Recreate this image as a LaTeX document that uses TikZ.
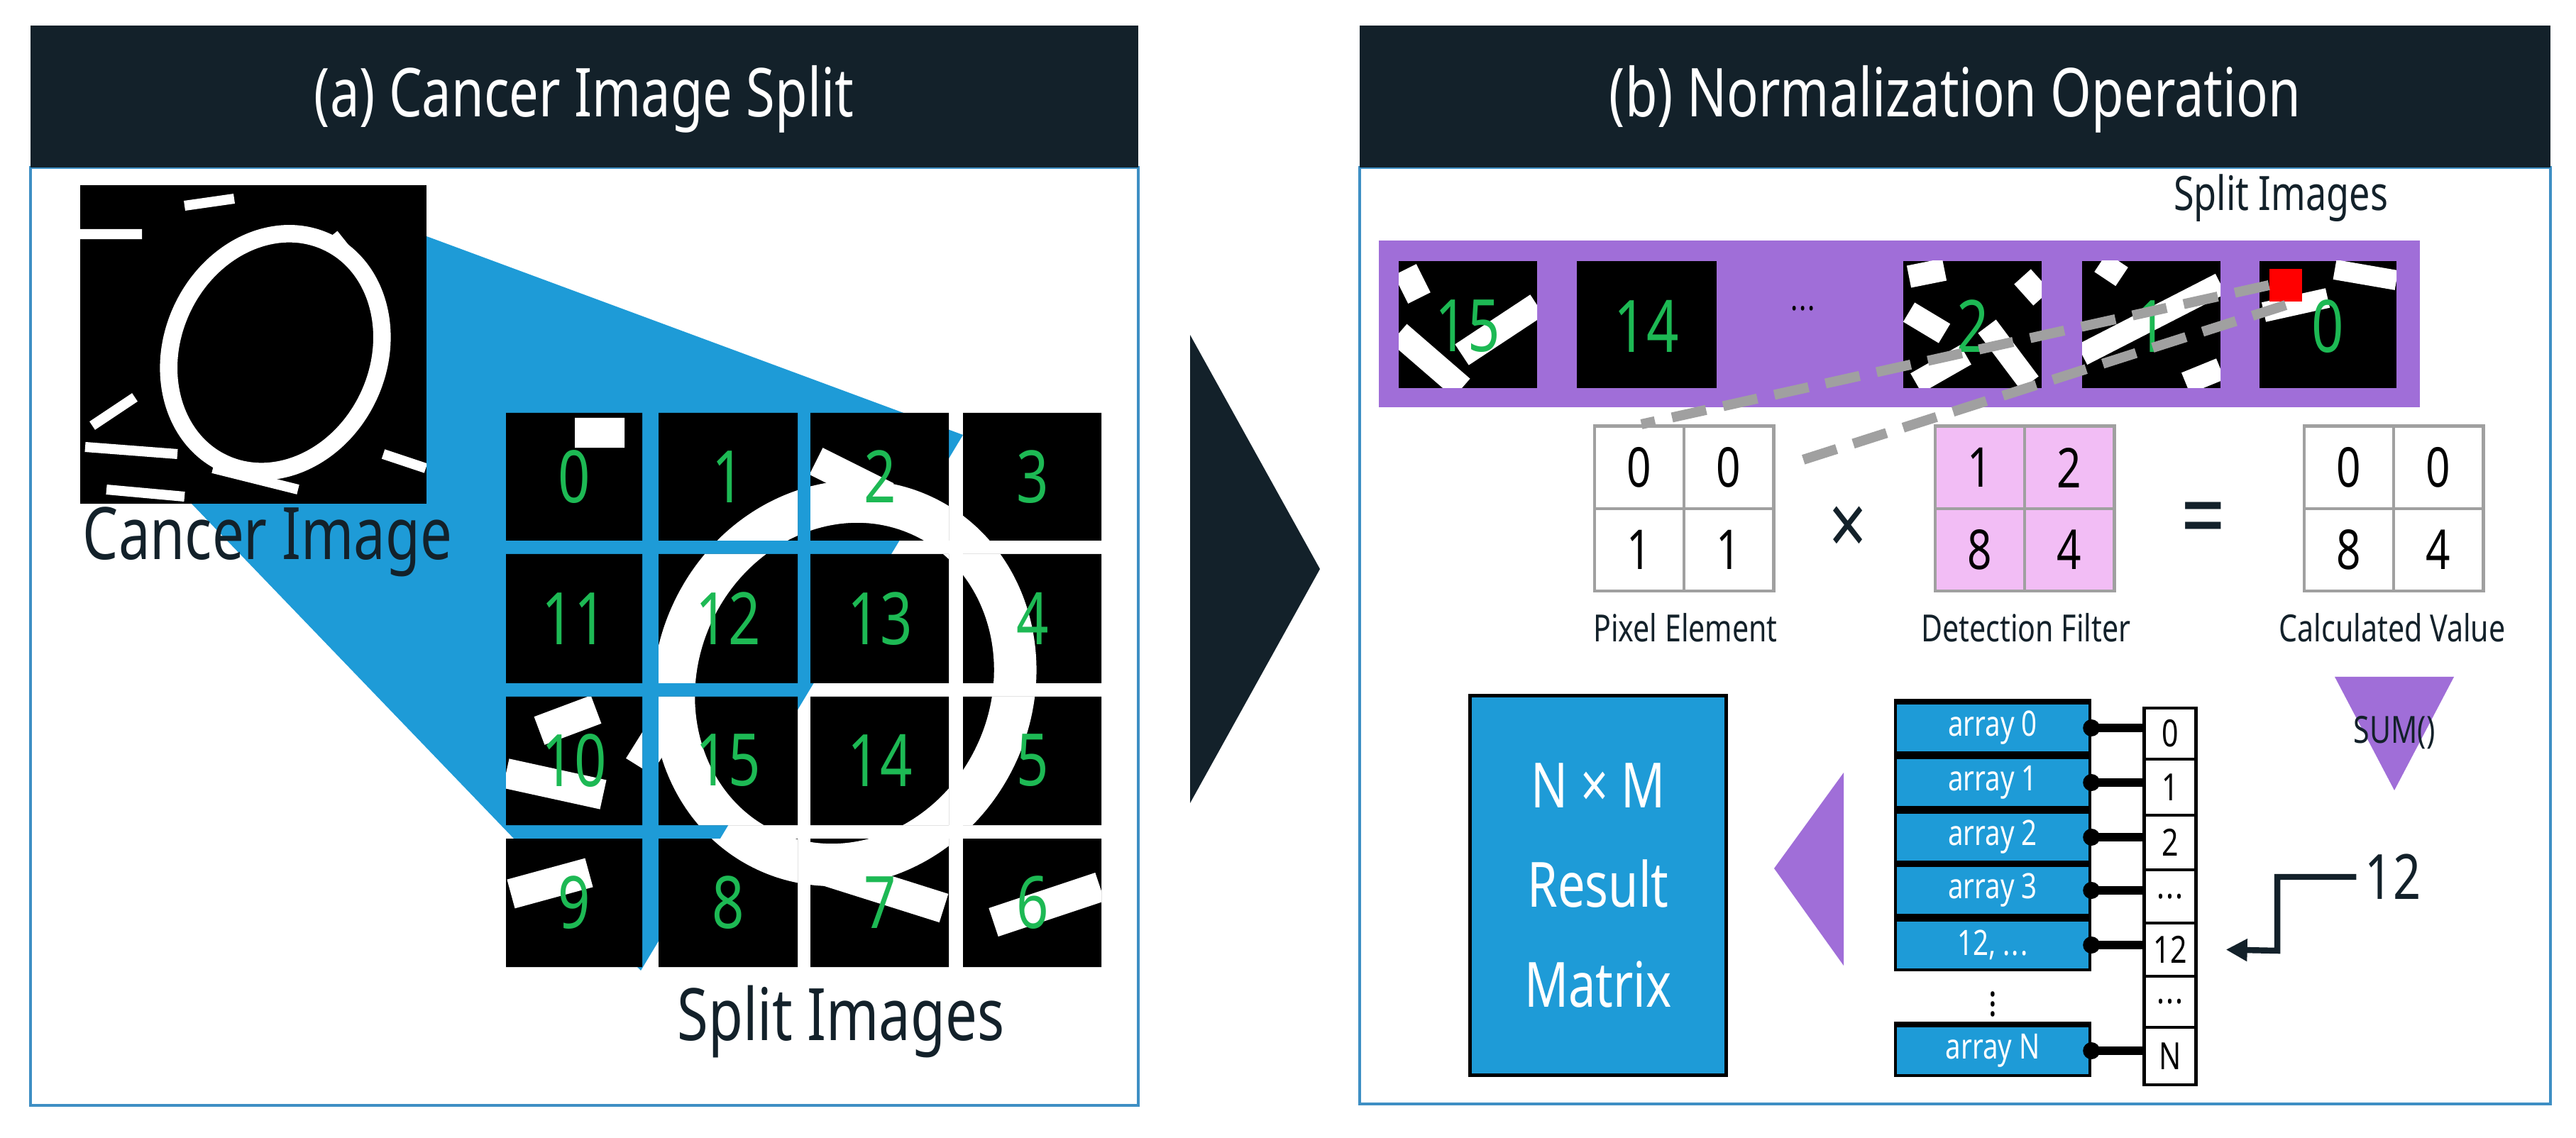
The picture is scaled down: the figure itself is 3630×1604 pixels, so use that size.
\documentclass[tikz,border=0pt]{standalone}
\usepackage{fontspec}
\setmainfont{Noto Sans}[FakeStretch=0.78]
\usetikzlibrary{arrows.meta}
\definecolor{hdr}{HTML}{13212A}
\definecolor{pblue}{HTML}{1E9BD7}
\definecolor{pborder}{HTML}{3E8FC4}
\definecolor{purp}{HTML}{A06ED8}
\definecolor{pink}{HTML}{F2BDF5}
\definecolor{grn}{HTML}{1DB954}
\definecolor{mgray}{HTML}{A0A0A0}
\newcommand{\tdots}{.\kern0.5pt.\kern0.5pt.}
\tikzset{
  hdrbox/.style={fill=hdr,draw=none},
  panel/.style={draw=pborder,line width=0.9pt,fill=white},
  title/.style={text=white,font=\fontsize{27}{30}\selectfont},
  bigtxt/.style={text=hdr,font=\fontsize{29}{32}\selectfont},
  num/.style={text=grn,font=\fontsize{29}{32}\selectfont},
  mcell/.style={draw=mgray,line width=1.4pt,minimum width=1.26cm,minimum height=1.16cm,inner sep=0pt,font=\fontsize{22}{24}\selectfont},
  lbl/.style={text=hdr,font=\fontsize{15}{17}\selectfont},
  arr/.style={fill=pblue,draw=black,line width=1.2pt,minimum width=2.74cm,minimum height=0.7cm,inner sep=0pt,text=white,font=\fontsize{14}{16}\selectfont},
  idx/.style={draw=black,line width=1.2pt,fill=white,minimum width=0.73cm,inner sep=0pt,font=\fontsize{15}{17}\selectfont},
  graydash/.style={draw=mgray,line width=4pt,dash pattern=on 14pt off 7pt},
}
\begin{document}
\begin{tikzpicture}[x=0.01cm,y=-0.01cm]
\useasboundingbox (0,0) rectangle (3630,1604);
\fill[white] (0,0) rectangle (3630,1604);
% ---------- panel (a)
\path[panel] (43,236) rectangle (1604,1558);
\path[hdrbox] (43,36) rectangle (1604,236);
\node[title] (ta) at (823,140) {(a) Cancer Image Split};
% wedge
\fill[pblue] (601,333) -- (1357,613) -- (903,1368) -- (270,710) -- cycle;
% cancer image
\begin{scope}
\clip (113,261) rectangle (601,710);
\fill[black] (113,261) rectangle (601,710);
\draw[white,line width=7pt,rotate around={-25:(388,497)}] (388,497) ellipse [x radius=1.45cm,y radius=1.72cm];
\draw[white,line width=4pt] (113,330) -- (200,330) (260,290)--(330,280) (120,630)--(250,640) (300,660)--(420,690) (130,600)--(190,560) (470,330)--(510,380) (540,640)--(600,660) (150,690)--(260,700);
\end{scope}
\node[bigtxt] (ci) at (377,764) {Cancer Image};
% grid
\begin{scope}
\clip (713,582) rectangle (905,762) (928,582) rectangle (1124,762) (1142,582) rectangle (1337,762) (1357,582) rectangle (1552,762)
      (713,781) rectangle (905,963) (928,781) rectangle (1124,963) (1142,781) rectangle (1337,963) (1357,781) rectangle (1552,963)
      (713,982) rectangle (905,1163) (928,982) rectangle (1124,1163) (1142,982) rectangle (1337,1163) (1357,982) rectangle (1552,1163)
      (713,1182) rectangle (905,1363) (928,1182) rectangle (1124,1363) (1142,1182) rectangle (1337,1363) (1357,1182) rectangle (1552,1363);
\fill[black] (700,570) rectangle (1560,1370);
\draw[white,line width=17pt,rotate around={-25:(1190,963)}] (1190,963) ellipse [x radius=2.36cm,y radius=2.6cm];
\draw[white,line width=12pt] (713,1090)--(850,1120) (720,1260)--(830,1230) (1150,650)--(1250,700) (810,610)--(880,610) (1400,1300)--(1550,1250) (950,1000)--(900,1080) (1140,1220)--(1330,1280) (760,1030)--(840,1000);
\end{scope}
\foreach \n/\x/\y in {0/809/672,1/1026/672,2/1240/672,3/1455/672,
  11/809/872,12/1026/872,13/1240/872,4/1455/872,
  10/809/1072,15/1026/1072,14/1240/1072,5/1455/1072,
  9/809/1272,8/1026/1272,7/1240/1272,6/1455/1272}
  \node[num] (g\n) at (\x,\y) {\n};
\node[bigtxt] (si) at (1185,1440) {Split Images};
% ---------- centre arrow
\fill[hdr] (1677,472) -- (1860,802) -- (1677,1132) -- cycle;
% ---------- panel (b)
\path[panel] (1916,236) rectangle (3594,1556);
\path[hdrbox] (1916,36) rectangle (3594,236);
\node[title] (tb) at (2755,140) {(b) Normalization Operation};
\node[lbl,font=\fontsize{19}{21}\selectfont] (sib) at (3214,279) {Split Images};
\fill[purp] (1943,339) rectangle (3410,574);
% tiles
\foreach \a/\b in {1971/2166,2222/2419,2682/2877,2934/3129,3184/3377}
  \fill[black] (\a,368) rectangle (\b,547);
\begin{scope}\clip (1971,368) rectangle (2166,547);
\draw[white,line width=10pt] (1971,470)--(2060,547) (1980,380)--(2000,420) (2060,500)--(2166,430);\end{scope}
\begin{scope}\clip (2682,368) rectangle (2877,547);
\draw[white,line width=9pt] (2690,390)--(2740,380) (2690,440)--(2740,470) (2700,540)--(2770,500) (2800,460)--(2860,540) (2850,390)--(2877,420);\end{scope}
\begin{scope}\clip (2934,368) rectangle (3129,547);
\draw[white,line width=9pt] (2934,500)--(3129,400) (2960,370)--(2990,390) (3080,540)--(3129,520);\end{scope}
\begin{scope}\clip (3184,368) rectangle (3377,547);
\draw[white,line width=8pt] (3190,440)--(3280,420) (3290,380)--(3377,395);\end{scope}
\foreach \n/\x in {15/2068,14/2320,2/2780,1/3031,0/3280}
  \node[num] (t\n) at (\x,460) {\n};
\node[font=\fontsize{14}{16}\selectfont] (tdt) at (2541,435) {\tdots};
\node[fill=red,minimum width=0.46cm,minimum height=0.45cm,inner sep=0pt] (red) at (3221,402) {};
% matrices
\foreach \m/\x/\f/\a/\b/\c/\d in {p/2247/white/0/0/1/1, d/2727/pink/1/2/8/4, c/3247/white/0/0/8/4}{
  \node[mcell,fill=\f] (\m11) at (\x+63,659) {\a};
  \node[mcell,fill=\f] (\m12) at (\x+189,659) {\b};
  \node[mcell,fill=\f] (\m21) at (\x+63,775) {\c};
  \node[mcell,fill=\f] (\m22) at (\x+189,775) {\d};
}
\node[text=hdr,font=\bfseries\fontsize{34}{36}\selectfont] (times) at (2604,748) {×};
\node[text=hdr,font=\bfseries\fontsize{40}{42}\selectfont] (eq) at (3105,742) {=};
\node[lbl] (lp) at (2375,885) {Pixel Element};
\node[lbl] (ld) at (2855,885) {Detection Filter};
\node[lbl] (lc) at (3371,885) {Calculated Value};
\coordinate (dA) at (2313,598);
\coordinate (dB) at (2519,655);
\draw[graydash] (red.west) -- (dA);
\draw[graydash] ([yshift=-0.28cm]red.center) -- (dB);
% SUM
\fill[purp] (3290,954) -- (3458,954) -- (3374,1114) -- cycle;
\node[text=hdr,font=\bfseries\fontsize{15}{17}\selectfont] (sum) at (3374,1033) {SUM()};
% result
\node[fill=pblue,draw=black,line width=1.4pt,minimum width=3.6cm,minimum height=5.34cm,inner sep=0pt,text=white,align=center,font=\fontsize{25}{40}\selectfont] (res) at (2252,1248) {N × M\\Result\\Matrix};
\fill[purp] (2500,1224) -- (2598,1089) -- (2598,1361) -- cycle;
% arrays
\foreach \k/\t/\y in {a0/array 0/1026,a1/array 1/1103,a2/array 2/1180,a3/array 3/1255,a12/{12, \tdots}/1332,aN/array N/1481}{
  \node[arr] (\k) at (2808,\y) {\t};
  \draw[black,line width=2.2pt] (\k.north west) -- (\k.north east);
}
\node[font=\fontsize{16}{18}\selectfont] (vd) at (2808,1405) {$\vdots$};
% index column
\foreach \k/\t/\a/\b in {i0/0/998/1070,i1/1/1070/1149,i2/2/1149/1226,i3/\tdots/1226/1301,i12/12/1301/1376,i13/\tdots/1376/1448,iN/N/1448/1529}
  \node[idx,minimum height={(\b-\a)*0.01cm}] (\k) at (3058,{(\a+\b)/2}) {\t};
\foreach \k/\i in {a0/i0,a1/i1,a2/i2,a3/i3,a12/i12,aN/iN}{
  \draw[black,line width=3.4pt] (\k.east) -- (\k.east -| \i.west);
  \fill[black] (\k.east) circle [radius=0.12cm];
}
\node[text=hdr,font=\bfseries\fontsize{25}{27}\selectfont] (twelve) at (3372,1236) {12};
\draw[hdr,line width=2.4pt,-{Triangle[length=0.3cm,width=0.3cm]}] (twelve.west) -- (3209,1236) -- (3209,1340) -- ([xshift=0.4cm]i12.east);
\end{tikzpicture}
\end{document}
